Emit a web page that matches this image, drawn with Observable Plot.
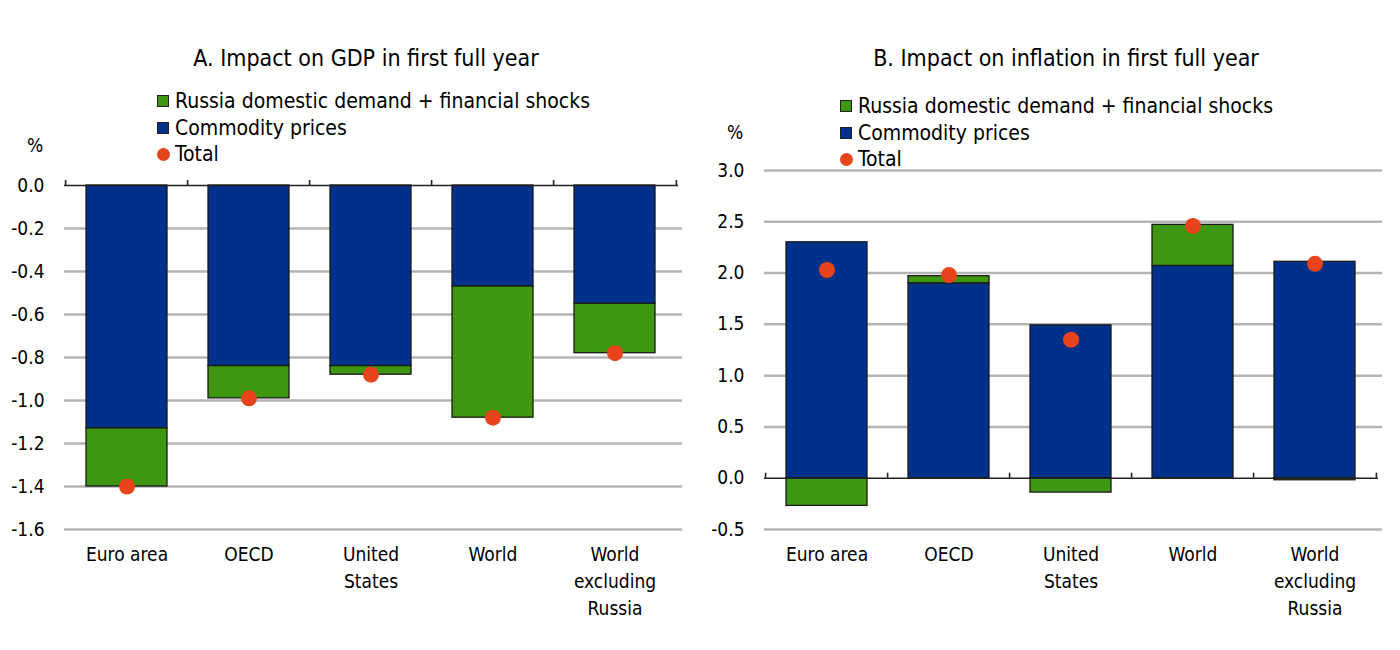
<!DOCTYPE html>
<html><head><meta charset="utf-8">
<script src="https://cdn.jsdelivr.net/npm/d3@7"></script>
<script src="https://cdn.jsdelivr.net/npm/@observablehq/plot@0.6"></script>
<style>
body{margin:0;background:#fff;}
#wrap{position:relative;width:1400px;height:650px;font-family:"Liberation Sans Narrow","Arial Narrow","DejaVu Sans Condensed",sans-serif;color:#000;}
.title{position:absolute;font-size:23px;white-space:nowrap;transform:translateX(-50%);top:45px;}
.legend{position:absolute;font-size:21px;line-height:26.5px;}
.legend .row{display:flex;align-items:center;white-space:nowrap;}
.sw{width:12px;height:12px;border:1px solid #222;box-sizing:border-box;margin-right:6px}
.dot{width:13px;height:13px;border-radius:50%;background:#e8441c;margin-right:5px}
.pct{position:absolute;font-size:19px;}
.panel{position:absolute;top:150px;}
</style></head>
<body><div id="wrap"></div>
<script>
const categories = ["Euro area","OECD","United States","World","World excluding Russia"];
const categoryLabels = ["Euro area","OECD","United\nStates","World","World\nexcluding\nRussia"];
const seriesNames = ["Commodity prices","Russia domestic demand + financial shocks"];
const gdpCommodity = [-1.13,-0.84,-0.84,-0.47,-0.55];
const gdpRussia = [-0.27,-0.15,-0.04,-0.61,-0.23];
const gdpTotal = [-1.40,-0.99,-0.88,-1.08,-0.78];
const inflCommodity = [2.30,1.90,1.49,2.07,2.11];
const inflRussia = [-0.27,0.07,-0.14,0.40,-0.02];
const inflTotal = [2.03,1.98,1.35,2.46,2.09];
const gdpTicks = [0,-0.2,-0.4,-0.6,-0.8,-1.0,-1.2,-1.4,-1.6];
const inflTicks = [3.0,2.5,2.0,1.5,1.0,0.5,0.0,-0.5];

const BLUE = "#00318a", GREEN = "#3f9610", RED = "#e8441c";
const FONT = '"Liberation Sans Narrow","Arial Narrow","DejaVu Sans Condensed",sans-serif';
const wrap = document.getElementById("wrap");

function makePanel({left, title, commodity, russia, total, ticks, domain, marginTop, legendX, legendY, pctY}) {
  const W = 700, H = 474, ml = 64, mr = 22, mb = 95;
  const plotH = H - marginTop - mb;
  const step = (W - ml - mr) / categories.length;
  const tickLen = (domain[1] - domain[0]) / plotH * 5;
  const rows = [];
  categories.forEach((c, i) => {
    rows.push({cat: c, series: seriesNames[0], value: commodity[i]});
    rows.push({cat: c, series: seriesNames[1], value: russia[i]});
  });
  const totals = categories.map((c, i) => ({cat: c, value: total[i]}));
  const chart = Plot.plot({
    width: W, height: H, marginLeft: ml, marginRight: mr, marginTop, marginBottom: mb,
    style: {fontFamily: FONT, fontSize: "19px", color: "#000", background: "transparent", overflow: "visible"},
    x: {domain: categories, paddingInner: 0.336, paddingOuter: 0.168, axis: null},
    y: {domain, axis: null},
    color: {domain: seriesNames, range: [BLUE, GREEN]},
    marks: [
      Plot.ruleY(ticks.filter(t => t !== 0), {y: d => d, stroke: "#b5b5b5", strokeWidth: 2.5, insetRight: -4}),
      Plot.barY(rows, Plot.stackY({x: "cat", y: "value", fill: "series", stroke: "#1a1a1a", strokeWidth: 1.3})),
      Plot.ruleY([0], {stroke: "#222", strokeWidth: 1.6}),
      Plot.ruleX(categories, {x: d => d, y1: 0, y2: tickLen, dx: -step / 2, stroke: "#222", strokeWidth: 1.6}),
      Plot.ruleX(categories.slice(-1), {x: d => d, y1: 0, y2: tickLen, dx: step / 2, stroke: "#222", strokeWidth: 1.6}),
      Plot.dot(totals, {x: "cat", y: "value", r: 8, fill: RED}),
      Plot.axisY({ticks, tickSize: 0, tickPadding: 20, tickFormat: d => d.toFixed(1), fontSize: 19, label: null}),
      Plot.axisX({tickSize: 0, tickPadding: 12, tickFormat: d => categoryLabels[categories.indexOf(d)], lineHeight: 1.42, fontSize: 19, label: null})
    ]
  });
  const p = document.createElement("div");
  p.className = "panel"; p.style.left = left + "px";
  p.appendChild(chart);
  wrap.appendChild(p);

  const t = document.createElement("div");
  t.className = "title"; t.textContent = title;
  t.style.left = (left + 366) + "px";
  wrap.appendChild(t);

  const lg = document.createElement("div");
  lg.className = "legend"; lg.style.left = (left + legendX) + "px"; lg.style.top = legendY + "px";
  lg.innerHTML =
    `<div class="row"><span class="sw" style="background:${GREEN}"></span>${seriesNames[1]}</div>` +
    `<div class="row"><span class="sw" style="background:${BLUE}"></span>${seriesNames[0]}</div>` +
    `<div class="row"><span class="dot"></span>Total</div>`;
  wrap.appendChild(lg);

  const pc = document.createElement("div");
  pc.className = "pct"; pc.textContent = "%";
  pc.style.left = (left + 27) + "px"; pc.style.top = pctY + "px";
  wrap.appendChild(pc);
}

makePanel({left: 0, title: "A. Impact on GDP in first full year", commodity: gdpCommodity, russia: gdpRussia,
  total: gdpTotal, ticks: gdpTicks, domain: [-1.6, 0], marginTop: 35, legendX: 157, legendY: 88, pctY: 134});
makePanel({left: 700, title: "B. Impact on inflation in first full year", commodity: inflCommodity, russia: inflRussia,
  total: inflTotal, ticks: inflTicks, domain: [-0.5, 3.0], marginTop: 20, legendX: 140, legendY: 93, pctY: 121});
</script></body></html>
